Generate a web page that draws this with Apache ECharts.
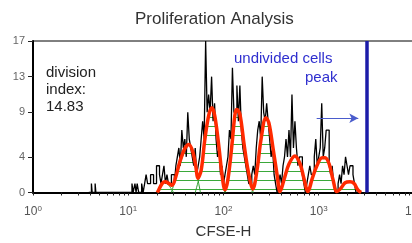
<!DOCTYPE html>
<html>
<head>
<meta charset="utf-8">
<script src="https://cdn.jsdelivr.net/npm/echarts@6/dist/echarts.min.js"></script>
<style>
  html, body { margin: 0; padding: 0; background: #fff; }
  #chart { width: 412px; height: 243px; }
</style>
</head>
<body>
<div id="chart"></div>
<script>
// CFSE histogram, 1024 channels over 4 decades (channel -> 10^(ch/256))
var binStart = 280;
var binWidth = 4;
var counts = [
  1, 0, 0, 1, 0, 1, 2, 1, 1, 2, 2, 1, 1, 3, 3, 2, 1, 2, 3, 1,
  2, 1, 1, 2, 2, 1, 3, 4, 5, 3, 7, 5, 6, 4, 9, 6, 5, 4, 3, 5,
  2, 3, 4, 6, 8, 6, 17, 9, 11, 9, 13, 8, 10, 6, 4, 5, 2, 3, 1, 2,
  3, 4, 7, 6, 14, 9, 9, 12, 8, 12, 7, 5, 4, 3, 2, 1, 1, 2, 3, 2,
  5, 7, 8, 6, 13, 9, 8, 10, 8, 6, 4, 5, 2, 1, 0, 1, 2, 1, 3, 4,
  6, 4, 7, 4, 11, 5, 8, 5, 3, 4, 4, 2, 1, 0, 1, 2, 3, 2, 2, 4,
  6, 3, 4, 5, 10, 4, 5, 7, 7, 3, 2, 3, 1, 0, 0, 1, 2, 1, 3, 2,
  4, 3, 2, 3, 3, 2, 1, 0, 0, 0];
// scattered events below the first generation [channel, count]
var lowEvents = [[150, 0], [157, 1], [159, 0], [167, 1], [169, 0], [266, 1], [269, 0], [274, 1], [277, 0]];

// fitted total (red) [channel, count]
var fitTotal = [[334, 0], [338, 0.3], [347, 1.0], [355, 1.2], [366, 1.0], [374, 0.8], [384, 1.8], [395, 3.5],
  [409, 5.0], [419, 5.4], [430, 4.5], [438, 2.8], [443, 1.6], [452, 2.5], [462, 6.0], [473, 8.8],
  [481, 9.5], [489, 8.5], [500, 5.0], [508, 2.0], [516, 0.3], [524, 1.5], [535, 5.5], [543, 8.8],
  [548, 9.3], [556, 8.8], [567, 5.5], [578, 2.5], [591, 0.4], [602, 2.5], [613, 6.0], [626, 8.4],
  [634, 7.8], [645, 5.0], [656, 2.0], [664, 0.1], [675, 1.5], [688, 3.2], [704, 4.1], [718, 3.2],
  [728, 1.6], [739, 0.1], [750, 1.5], [763, 3.0], [777, 3.9], [785, 3.9], [796, 3.2], [806, 1.5],
  [817, 0.1], [828, 0.5], [839, 1.1], [852, 1.2], [863, 1.0], [873, 0.3], [882, 0]];

// fitted generations (green) [channel, count]
var gen8 = [[334, 0], [345, 0.8], [355, 1.1], [365, 0.8], [378, 0]];
var gen7 = [[372, 0], [385, 1.8], [400, 3.8], [412, 5.0], [419, 5.3], [427, 4.8], [438, 2.6], [450, 0]];
var gen6 = [[436, 0], [450, 2.3], [463, 6.0], [474, 8.8], [481, 9.4], [489, 8.4], [500, 4.8], [510, 1.5], [518, 0]];
var gen5 = [[514, 0], [525, 1.6], [536, 5.6], [544, 8.6], [548, 9.2], [556, 8.6], [567, 5.4], [578, 2.4], [592, 0]];
var gen4 = [[588, 0], [602, 2.5], [613, 5.8], [621, 7.9], [626, 8.3], [634, 7.6], [645, 4.8], [656, 1.9], [666, 0]];
var gen3 = [[662, 0], [675, 1.5], [688, 3.1], [698, 4.0], [704, 4.1], [718, 3.1], [729, 1.5], [740, 0]];
var gen2 = [[737, 0], [750, 1.5], [763, 3.0], [777, 3.8], [785, 3.8], [796, 3.1], [806, 1.5], [818, 0]];
var gen1 = [[815, 0], [828, 0.5], [839, 1.0], [852, 1.2], [863, 1.0], [873, 0.3], [882, 0]];
var generations = [gen8, gen7, gen6, gen5, gen4, gen3, gen2, gen1];

var yTicks = [0, 4, 9, 13, 17];
var xLabels = [1, 10, 100, 1000, 10000];
var xMinor = [1, 2, 3, 4, 5, 6, 7, 8, 9, 10, 20, 30, 40, 50, 60, 70, 80, 90,
  100, 200, 300, 400, 500, 600, 700, 800, 900, 1000, 2000, 3000, 4000, 5000,
  6000, 7000, 8000, 9000, 10000];

var undividedPeak = 3212;
var arrowFrom = [951, 8.33];
var arrowTo = [2601, 8.33];

function chToCFSE(ch) {
  return Math.pow(10, ch / 256);
}
function toXY(p) {
  return [chToCFSE(p[0]), p[1]];
}

var histData = lowEvents.map(toXY);
counts.forEach(function (c, i) {
  histData.push([chToCFSE(binStart + binWidth * i), c]);
});
histData.push([chToCFSE(binStart + binWidth * counts.length), 0]);

// horizontal hatching for generation fills
var hatch = document.createElement('canvas');
hatch.width = 4;
hatch.height = 9;
var hctx = hatch.getContext('2d');
hctx.fillStyle = '#3aa83a';
hctx.fillRect(0, 0, 4, 1);

var font = 'Liberation Sans, Arial, sans-serif';
var chart = echarts.init(document.getElementById('chart'));

var series = generations.map(function (g) {
  return {
    type: 'line',
    data: g.map(toXY),
    smooth: 0.3,
    symbol: 'none',
    silent: true,
    lineStyle: { color: '#2e9e2e', width: 1 },
    areaStyle: { color: { image: hatch, repeat: 'repeat' }, opacity: 1 },
    z: 2
  };
});

series.push({
  type: 'line',
  data: histData,
  step: 'end',
  symbol: 'none',
  silent: true,
  lineStyle: { color: '#000', width: 1.3 },
  z: 3,
  markLine: {
    silent: true,
    animation: false,
    label: { show: false },
    data: [
      [{ coord: [undividedPeak, 0], symbol: 'none' },
       { coord: [undividedPeak, 17], symbol: 'none' }],
      [{ coord: arrowFrom, symbol: 'none', lineStyle: { color: '#4a5ccc', width: 1 } },
       { coord: arrowTo, symbol: 'arrow', symbolSize: [7, 9] }]
    ],
    lineStyle: { color: '#1c1ca8', width: 3.5, type: 'solid' }
  }
});

series.push({
  type: 'line',
  data: fitTotal.map(toXY),
  smooth: 0.35,
  symbol: 'none',
  silent: true,
  lineStyle: { color: '#ff2a00', width: 3.5 },
  z: 4
});

var option = {
  animation: false,
  title: {
    text: 'Proliferation Analysis',
    left: 130,
    top: 6,
    textStyle: { fontSize: 17, fontWeight: 'normal', color: '#333', fontFamily: font }
  },
  grid: {
    left: 33, right: -2, top: 41, bottom: 50.5,
    outerBoundsMode: 'none',
    containLabel: false,
    show: true, borderColor: '#000', borderWidth: 1
  },
  xAxis: {
    type: 'log',
    logBase: 10,
    min: 1,
    max: 10000,
    name: 'CFSE-H',
    nameLocation: 'middle',
    nameGap: 32,
    nameTextStyle: { fontSize: 15, color: '#333', fontFamily: font },
    axisLine: { lineStyle: { color: '#000', width: 2 } },
    axisTick: { customValues: xMinor, length: 3, lineStyle: { color: '#222' } },
    axisLabel: {
      customValues: xLabels,
      margin: 12,
      formatter: function (v) {
        return '{b|10}{s|' + Math.round(Math.log10(v)) + '}';
      },
      rich: {
        b: { fontSize: 12, color: '#555', fontFamily: font, lineHeight: 14 },
        s: { fontSize: 8, color: '#555', fontFamily: font, verticalAlign: 'top', lineHeight: 10 }
      }
    },
    splitLine: { show: false }
  },
  yAxis: {
    type: 'value',
    min: 0,
    max: 17,
    axisLine: { show: true, lineStyle: { color: '#000', width: 2 } },
    axisTick: { show: true, customValues: yTicks, length: 5, lineStyle: { color: '#222' } },
    axisLabel: { customValues: yTicks, fontSize: 11, color: '#666', fontFamily: font, margin: 8 },
    splitLine: { show: false }
  },
  graphic: [
    {
      type: 'text', left: 46, top: 64,
      style: { text: 'division\nindex:\n14.83', fill: '#222', font: '15px ' + font, lineHeight: 17 }
    },
    {
      type: 'text', left: 234, top: 51,
      style: { text: 'undivided cells', fill: '#2f2fcf', font: '15px ' + font }
    },
    {
      type: 'text', left: 305, top: 70,
      style: { text: 'peak', fill: '#2f2fcf', font: '15px ' + font }
    }
  ],
  series: series
};

chart.setOption(option);
</script>
</body>
</html>
